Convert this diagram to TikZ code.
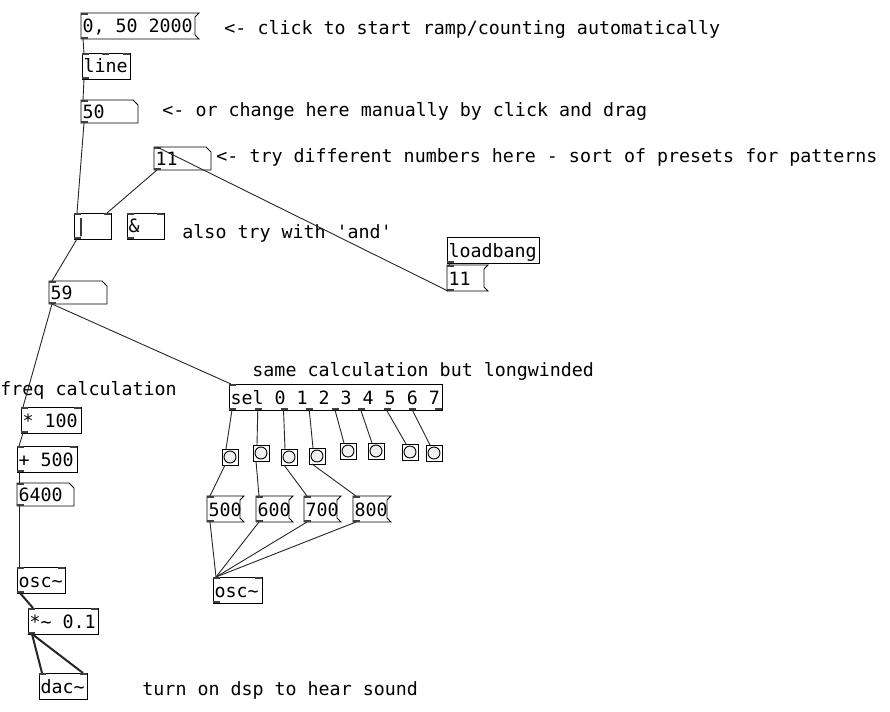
\documentclass[tikz,border=0pt]{standalone}
\usepackage{fontspec}
\newfontfamily\pdfont{DejaVu Sans Mono}[Ligatures=TeXOff]
\begin{document}
\begin{tikzpicture}[x=1pt,y=-1pt,line width=0.9pt,
      pdfnt/.style={font={\pdfont\fontsize{18.3}{20}\selectfont}},
      obj/.style={pdfnt, draw, anchor=north west, outer sep=0pt, inner xsep=1.5pt,
        inner ysep=0pt, minimum height=26pt, text height=15pt, text depth=1pt,
        execute at begin node={\spaceskip=0pt\xspaceskip=0pt\relax}},
      msg/.style={obj, draw=none},
      num/.style={obj, draw=none, minimum height=23pt},
      bng/.style={draw, anchor=north west, outer sep=0pt, inner sep=0pt, minimum size=16pt,
        path picture={\draw[fill=black!6] (path picture bounding box.center) circle (6pt);}},
      cmt/.style={pdfnt, anchor=base west, inner sep=0pt},
      tab/.style={fill=black!75},
      con/.style={draw=black!85},
      sig/.style={con, line width=2pt}]

    \useasboundingbox (0,0) rectangle (890,711);

    \node[msg, text width=115pt] (start) at (81,13) {0, 50 2000};
    \node[obj, text width=45pt] (line) at (82,53) {line};
    \node[num, text width=54pt] (n50) at (81,100) {50};
    \node[num, text width=54pt] (n11) at (154,147) {11};
    \node[obj, text width=34pt] (bor) at (74,213) {|};
    \node[obj, text width=34pt] (band) at (127,213) {\&};
    \node[obj, text width=89pt] (lbang) at (447,237) {loadbang};
    \node[msg, text width=38pt] (mld) at (447,265) {11};
    \node[num, text width=55pt] (n59) at (49,281) {59};

    \node[obj, text width=57pt] (mul) at (21,407) {* 100};
    \node[obj, text width=57pt] (add) at (17,446) {+ 500};
    \node[num, text width=54pt] (n6400) at (17,483) {6400};
    \node[obj, text width=45pt] (oscl) at (17,567) {osc\textasciitilde};
    \node[obj, text width=67pt] (smul) at (28,608) {*\textasciitilde{} 0.1};
    \node[obj, text width=45pt] (dac) at (39,673) {dac\textasciitilde};

    \node[obj, text width=210pt] (sel) at (229,384) {sel 0 1 2 3 4 5 6 7};
    \node[bng] (b0) at (222,449) {};
    \node[bng] (b1) at (253,445) {};
    \node[bng] (b2) at (281,449) {};
    \node[bng] (b3) at (309,448) {};
    \node[bng] (b4) at (340,443) {};
    \node[bng] (b5) at (368,443) {};
    \node[bng] (b6) at (402,444) {};
    \node[bng] (b7) at (426,445) {};
    \node[msg, text width=34pt] (m500) at (207,496) {500};
    \node[msg, text width=34pt] (m600) at (256,496) {600};
    \node[msg, text width=34pt] (m700) at (304,496) {700};
    \node[msg, text width=35pt] (m800) at (353,496) {800};
    \node[obj, text width=46pt] (oscr) at (213,577) {osc\textasciitilde};

    \node[cmt] (c1) at (224,35) {<- click to start ramp/counting automatically};
    \node[cmt] (c2) at (162,117) {<- or change here manually by click and drag};
    \node[cmt] (c3) at (216,163) {<- try different numbers here - sort of presets for patterns};
    \node[cmt] (c4) at (182,238) {also try with 'and'};
    \node[cmt] (c5) at (252,376) {same calculation but longwinded};
    \node[cmt] (c6) at (0,395) {freq calculation};
    \node[cmt] (c7) at (142,695) {turn on dsp to hear sound};

    \foreach \m in {start,mld,m500,m600,m700,m800}
      \draw (\m.north west) -- (\m.north east) -- ([shift={(-4pt,-4pt)}]\m.north east)
        -- ([shift={(-4pt,4pt)}]\m.south east) -- (\m.south east) -- (\m.south west) -- cycle;
    \foreach \m in {n50,n11,n59,n6400}
      \draw (\m.north west) -- ([xshift=-5pt]\m.north east) -- ([yshift=-5pt]\m.north east)
        -- (\m.south east) -- (\m.south west) -- cycle;

    \foreach \m in {start,line,n50,n11,bor,band,mld,n59,mul,add,n6400,oscl,smul,dac,sel,m500,m600,m700,m800,oscr}
      \fill[tab] (\m.north west) rectangle ++(7,2);
    \foreach \m in {line,bor,band,mul,add,oscl,smul,dac,oscr}
      \fill[tab] (\m.north east) rectangle ++(-7,2);
    \fill[tab] ([xshift=20pt]line.north west) rectangle ++(7,2);
    \foreach \m in {start,line,n50,n11,bor,band,lbang,mld,n59,mul,add,n6400,oscl,smul,m500,m600,m700,m800,oscr}
      \fill[tab] (\m.south west) rectangle ++(7,-2);
    \foreach \i in {0,...,8}
      \fill[tab] ([xshift={\i*25.75pt}]sel.south west) rectangle ++(7,-2);

    \draw[con] ([xshift=2pt]start.south west) -- ([xshift=2pt]line.north west);
    \draw[con] ([xshift=2pt]line.south west) -- ([xshift=2pt]n50.north west);
    \draw[con] ([xshift=3pt]n50.south west) -- ([xshift=3pt]bor.north west);
    \draw[con] ([xshift=3pt]n11.south west) -- ([xshift=-4pt]bor.north east);
    \draw[con] ([xshift=2pt]lbang.south west) -- ([xshift=2pt]mld.north west);
    \draw[con] ([xshift=1pt]mld.south west) -- ([xshift=3pt]n11.north west);
    \draw[con] ([xshift=3pt]bor.south west) -- ([xshift=3pt]n59.north west);
    \draw[con] ([xshift=3pt]n59.south west) -- ([xshift=2pt]mul.north west);
    \draw[con] ([xshift=3pt]n59.south west) -- ([xshift=2pt]sel.north west);
    \draw[con] ([xshift=2pt]mul.south west) -- ([xshift=2pt]add.north west);
    \draw[con] ([xshift=2pt]add.south west) -- ([xshift=2pt]n6400.north west);
    \draw[con] ([xshift=2pt]n6400.south west) -- ([xshift=2pt]oscl.north west);
    \draw[sig] ([xshift=3pt]oscl.south west) -- ([xshift=5pt]smul.north west);
    \draw[sig] ([xshift=4pt]smul.south west) -- ([xshift=3pt]dac.north west);
    \draw[sig] ([xshift=4pt]smul.south west) -- ([xshift=-4pt]dac.north east);

    \foreach \i in {0,...,7}
      \draw[con] ([xshift={\i*25.75pt+3pt}]sel.south west) -- ([xshift=4pt]b\i.north west);
    \draw[con] ([xshift=3pt]b0.south west) -- ([xshift=3pt]m500.north west);
    \draw[con] ([xshift=3pt]b1.south west) -- ([xshift=3pt]m600.north west);
    \draw[con] ([xshift=3pt]b2.south west) -- ([xshift=3pt]m700.north west);
    \draw[con] ([xshift=3pt]b3.south west) -- ([xshift=3pt]m800.north west);
    \foreach \m in {m500,m600,m700,m800}
      \draw[con] ([xshift=3pt]\m.south west) -- ([xshift=3pt]oscr.north west);

  \end{tikzpicture}
\end{document}
